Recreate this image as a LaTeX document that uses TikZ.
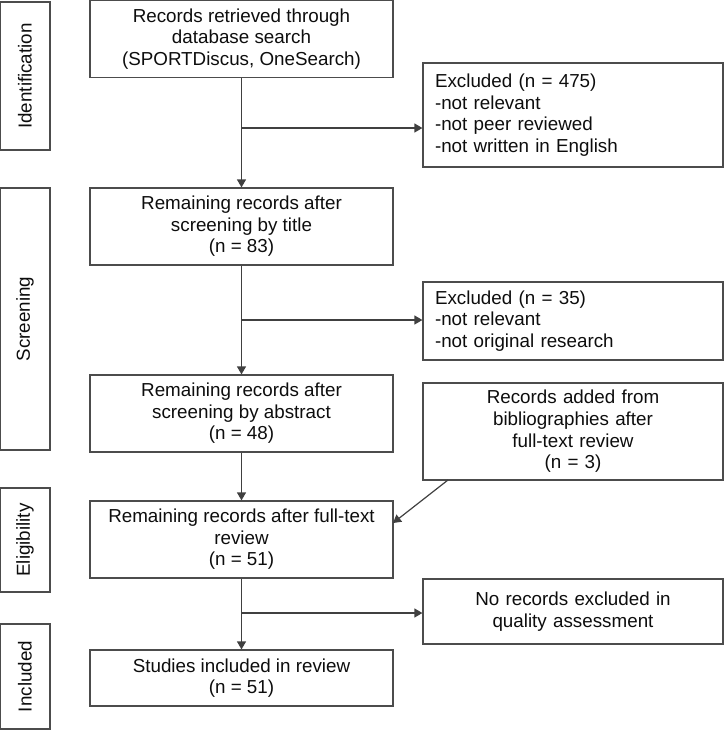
\documentclass[tikz,border=0pt]{standalone}
\usepackage{fontspec}
\setmainfont{Liberation Sans}
\usepackage{xcolor}
\usetikzlibrary{arrows.meta, positioning}

\begin{document}
\begin{tikzpicture}[
    x=0.5pt, y=-0.5pt,
    every node/.style={font=\fontsize{9.4}{10.8}\selectfont, text=black!95},
    stagebox/.style={draw=black!70, line width=0.6pt, rotate=90, minimum height=25pt, inner sep=0pt},
    flowbox/.style={draw=black!70, line width=0.6pt, align=center, minimum width=151.5pt, minimum height=38.5pt, inner sep=2pt},
    sidebox/.style={draw=black!70, line width=0.6pt, align=left, text width=138pt, inner xsep=6pt, inner ysep=2pt, minimum width=150pt},
    arr/.style={-{Triangle[length=4pt, width=4.5pt]}, draw=black!75, line width=0.6pt}
]
\useasboundingbox (0,0) rectangle (724,730);

% Stages
\node[stagebox, minimum width=74pt] (ident) at (25,76) {Identification};
\node[stagebox, minimum width=131pt] (screen) at (25,319) {Screening};
\node[stagebox, minimum width=52pt] (elig) at (25,540) {Eligibility};
\node[stagebox, minimum width=52.5pt] (incl) at (25,676.5) {Included};

% Main flow
\node[flowbox] (search) at (241.5,39) {Records retrieved through\\database search\\(SPORTDiscus, OneSearch)};
\node[flowbox] (title) at (241.5,226.5) {Remaining records after\\screening by title\\(n = 83)};
\node[flowbox] (abstract) at (241.5,413.5) {Remaining records after\\screening by abstract\\(n = 48)};
\node[flowbox] (fulltext) at (241.5,539.5) {Remaining records after full-text\\review\\(n = 51)};
\node[flowbox, minimum height=28pt] (included) at (241.5,678) {Studies included in review\\(n = 51)};

% Side boxes
\node[sidebox, minimum height=52pt] (excl1) at (573,115) {Excluded (n = 475)\\-not relevant\\-not peer reviewed\\-not written in English};
\node[sidebox, minimum height=39pt] (excl2) at (573,321) {Excluded (n = 35)\\-not relevant\\-not original research};
\node[sidebox, align=center, minimum height=48.5pt] (added) at (573,431.5) {Records added from\\bibliographies after\\full-text review\\(n = 3)};
\node[sidebox, align=center, minimum height=32.5pt] (noexcl) at (573,611.5) {No records excluded in\\quality assessment};

% Branch points
\coordinate (split1) at (241.5,128);
\coordinate (split2) at (241.5,320);
\coordinate (split3) at (241.5,613);
\coordinate (addfrom) at (448,480);
\coordinate (addto) at (393,523);

% Connectors
\draw[arr] (search) -- (title);
\draw[arr] (title) -- (abstract);
\draw[arr] (abstract) -- (fulltext);
\draw[arr] (fulltext) -- (included);
\draw[arr] (split1) -- (split1 -| excl1.west);
\draw[arr] (split2) -- (split2 -| excl2.west);
\draw[arr] (split3) -- (split3 -| noexcl.west);
\draw[arr] (addfrom) -- (addto);

\end{tikzpicture}
\end{document}
